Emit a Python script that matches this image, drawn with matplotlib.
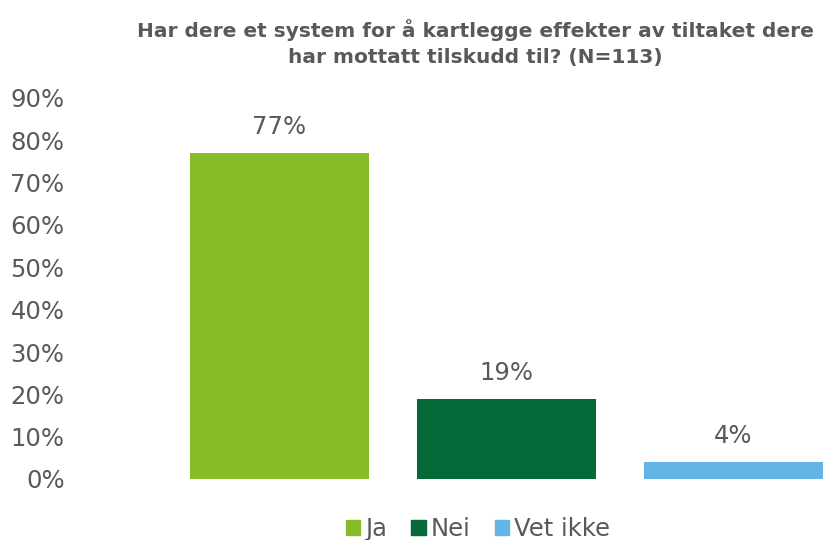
import matplotlib.pyplot as plt
from matplotlib.patches import Patch

categories = ['Ja', 'Nei', 'Vet ikke']
values = [0.77, 0.19, 0.04]
labels = ['77%', '19%', '4%']
colors = ['#86BC25', '#046A38', '#62B5E5']
yticks = [0, 0.1, 0.2, 0.3, 0.4, 0.5, 0.6, 0.7, 0.8, 0.9]

grey = '#595959'
plt.rcParams['font.family'] = ['Verdana', 'DejaVu Sans']

W, H = 829, 540
fig = plt.figure(figsize=(W / 100, H / 100), dpi=100)
# axes: x from 166 px to right edge, y from 0 at 479 px to 90% at 98 px
ax = fig.add_axes([166 / W, (H - 479) / H, (W - 166) / W, (479 - 98) / H])

x = range(len(categories))
ax.bar(x, values, width=179 / 227, color=colors)
for xi, v, lab in zip(x, values, labels):
    ax.annotate(lab, (xi, v), xytext=(0, 10), textcoords='offset points',
                ha='center', va='bottom', fontsize=17.5, color=grey)

ax.set_xlim(-0.5, 2.5 - (847 - 829) / 227)
ax.set_ylim(0, 0.9)
ax.set_yticks(yticks)
ax.set_yticklabels([f'{int(round(t * 100))}%' for t in yticks])
ax.tick_params(axis='y', length=0, labelsize=17.5, labelcolor=grey, pad=73)
ax.set_xticks([])
for s in ax.spines.values():
    s.set_visible(False)

fig.text(475 / W, 1 - 43 / H,
         'Har dere et system for å kartlegge effekter av tiltaket dere\nhar mottatt tilskudd til? (N=113)',
         ha='center', va='center', fontsize=14.5, fontweight='bold', color=grey,
         linespacing=1.45)

handles = [Patch(color=c) for c in colors]
fig.legend(handles, categories, loc='center', bbox_to_anchor=(478 / W, 1 - 529 / H),
           ncol=3, frameon=False, fontsize=17.5, labelcolor=grey,
           handlelength=0.6, handleheight=0.6, handletextpad=0.2, columnspacing=1.0)

fig.savefig('out.png', dpi=100)
